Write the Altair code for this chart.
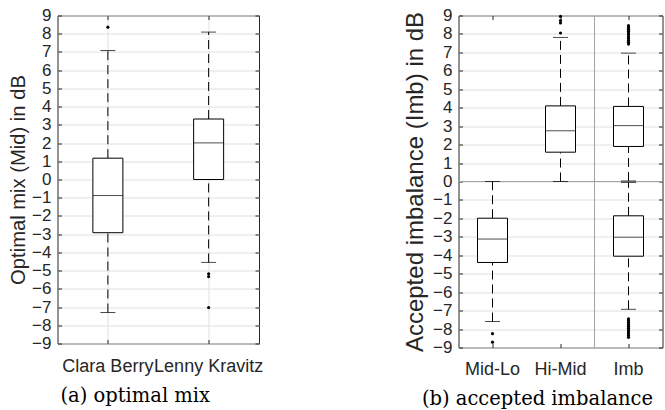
import altair as alt
import pandas as pd

# ---------------- data ----------------
y_ticks = [-9, -8, -7, -6, -5, -4, -3, -2, -1, 0, 1, 2, 3, 4, 5, 6, 7, 8, 9]

# (a) optimal mix
a_cats = ["Clara Berry", "Lenny Kravitz"]
a_q1 = [-2.92, 0.0]
a_med = [-0.88, 2.01]
a_q3 = [1.17, 3.32]
a_lo = [-7.30, -4.55]
a_hi = [7.08, 8.09]
a_out_cat = ["Clara Berry", "Lenny Kravitz", "Lenny Kravitz", "Lenny Kravitz"]
a_out_val = [8.36, -5.17, -5.33, -7.03]

# (b) accepted imbalance
b_cats = ["Mid-Lo", "Hi-Mid", "Imb"]
b_box_cat = ["Mid-Lo", "Hi-Mid", "Imb", "Imb"]
b_q1 = [-4.39, 1.59, 1.90, -4.05]
b_med = [-3.12, 2.75, 3.03, -3.02]
b_q3 = [-1.99, 4.10, 4.07, -1.86]
b_lo = [-7.59, 0.0, 0.03, -6.93]
b_hi = [0.0, 7.81, 6.96, -0.05]
b_out_cat = ["Mid-Lo", "Mid-Lo",
             "Hi-Mid", "Hi-Mid", "Hi-Mid", "Hi-Mid",
             "Imb", "Imb", "Imb", "Imb", "Imb", "Imb", "Imb", "Imb", "Imb", "Imb", "Imb",
             "Imb", "Imb", "Imb", "Imb", "Imb", "Imb", "Imb", "Imb", "Imb", "Imb", "Imb"]
b_out_val = [-8.25, -8.71,
             8.05, 8.60, 8.73, 8.95,
             7.45, 7.55, 7.65, 7.75, 7.85, 7.95, 8.05, 8.15, 8.25, 8.35, 8.45,
             -7.45, -7.55, -7.65, -7.75, -7.85, -7.95, -8.05, -8.15, -8.25, -8.35, -8.45]
b_zero_y = [0]
b_sep_cat = ["Imb"]

# ---------------- style ----------------
FONT = "Liberation Sans"
DARK = "#262626"
GRID = "#e0e0e0"
REF = "#a3a3a3"


def panel(cats, box_df, out_df, width, height, ytitle, ytitle_size, ytitle_pad,
          caption, cap_dx, xgrid, x_lab_pad, extras):
    ydom = alt.Scale(domain=[-9, 9], nice=False, zero=False)
    xsc = alt.Scale(domain=cats, paddingInner=0, paddingOuter=0)

    x_main = alt.X("cat:N", scale=xsc, sort=cats, title=None,
                   axis=alt.Axis(orient="bottom", labelAngle=0, labelFont=FONT,
                                 labelFontSize=18, labelColor=DARK,
                                 labelPadding=x_lab_pad, tickSize=4, offset=-4,
                                 tickColor=DARK, domain=False, grid=xgrid,
                                 gridColor=GRID, bandPosition=0.5))
    x_plain = alt.X("cat:N", scale=xsc, sort=cats, axis=None)
    y_main = alt.Y("q3:Q", scale=ydom, title=ytitle,
                   axis=alt.Axis(values=y_ticks, labelFont=FONT, labelFontSize=17,
                                 labelColor=DARK, labelPadding=6.5, tickSize=4,
                                 offset=-4, tickColor=DARK, domain=False, grid=True,
                                 gridColor=GRID, labelOverlap=False,
                                 titleFont=FONT, titleFontSize=ytitle_size,
                                 titleFontWeight="normal", titleColor=DARK,
                                 titlePadding=ytitle_pad))

    def yq(f):
        return alt.Y(f + ":Q", scale=ydom, axis=None)

    base = alt.Chart(box_df)
    up = base.mark_rule(color="black", strokeWidth=1, strokeDash=[9, 5]).encode(
        x=x_main, y=y_main, y2="hi:Q")
    down = base.mark_rule(color="black", strokeWidth=1, strokeDash=[9, 5]).encode(
        x=x_plain, y=yq("lo"), y2="q1:Q")
    cap_hi = base.mark_tick(color="black", size=15, thickness=1, orient="horizontal").encode(
        x=x_plain, y=yq("hi"))
    cap_lo = base.mark_tick(color="black", size=15, thickness=1, orient="horizontal").encode(
        x=x_plain, y=yq("lo"))
    box = base.mark_bar(fill="white", stroke="black", strokeWidth=1, size=30).encode(
        x=x_plain, y=yq("q1"), y2="q3:Q")
    med = base.mark_tick(color="black", size=30, thickness=1, orient="horizontal").encode(
        x=x_plain, y=yq("med"))
    outs = alt.Chart(out_df).mark_circle(color="black", size=10, opacity=1).encode(
        x=alt.X("cat:N", scale=xsc, sort=cats,
                axis=alt.Axis(orient="top", labels=False, tickSize=4, offset=-4,
                              tickColor=DARK, domain=False, grid=False, title=None,
                              bandPosition=0.5)),
        y=alt.Y("val:Q", scale=ydom,
                axis=alt.Axis(orient="right", values=y_ticks, labels=False, tickSize=4,
                              offset=-4, tickColor=DARK, domain=False, grid=False,
                              title=None)))

    layers = extras(xsc, ydom) + [up, down, box, cap_hi, cap_lo, med, outs]
    return alt.layer(*layers).properties(
        width=width, height=height,
        title=alt.TitleParams(caption, orient="bottom", anchor="middle", frame="group",
                              font="DejaVu Serif", fontSize=19.5, fontWeight="normal",
                              color="black", offset=12, dx=cap_dx)
    ).resolve_axis(x="independent", y="independent")


a_box = pd.DataFrame({"cat": a_cats, "q1": a_q1, "med": a_med, "q3": a_q3,
                      "lo": a_lo, "hi": a_hi})
a_out = pd.DataFrame({"cat": a_out_cat, "val": a_out_val})
b_box = pd.DataFrame({"cat": b_box_cat, "q1": b_q1, "med": b_med, "q3": b_q3,
                      "lo": b_lo, "hi": b_hi})
b_out = pd.DataFrame({"cat": b_out_cat, "val": b_out_val})


def no_extras(xsc, ydom):
    return []


def b_extras(xsc, ydom):
    zero = alt.Chart(pd.DataFrame({"v": b_zero_y})).mark_rule(
        color=REF, strokeWidth=1).encode(y=alt.Y("v:Q", scale=ydom, axis=None))
    sep = alt.Chart(pd.DataFrame({"cat": b_sep_cat})).mark_rule(
        color=REF, strokeWidth=1).encode(
        x=alt.X("cat:N", scale=xsc, sort=b_cats, bandPosition=0, axis=None))
    return [zero, sep]


left = panel(a_cats, a_box, a_out, 201.5, 328, "Optimal mix (Mid) in dB", 20.2, 3.5,
             "(a) optimal mix", -23, True, 13.5, no_extras)
right = panel(b_cats, b_box, b_out, 204, 332, "Accepted imbalance (Imb) in dB", 24, 5,
              "(b) accepted imbalance", -23, False, 12.5, b_extras)

chart = alt.hconcat(left, right, spacing=199, bounds="flush").properties(
    padding={"left": 7.5, "top": 5.5, "right": 0, "bottom": 0},
    background="white"
).configure_view(stroke=DARK, strokeWidth=1)

chart.save("out.html", embed_options={"renderer": "svg", "actions": False})
